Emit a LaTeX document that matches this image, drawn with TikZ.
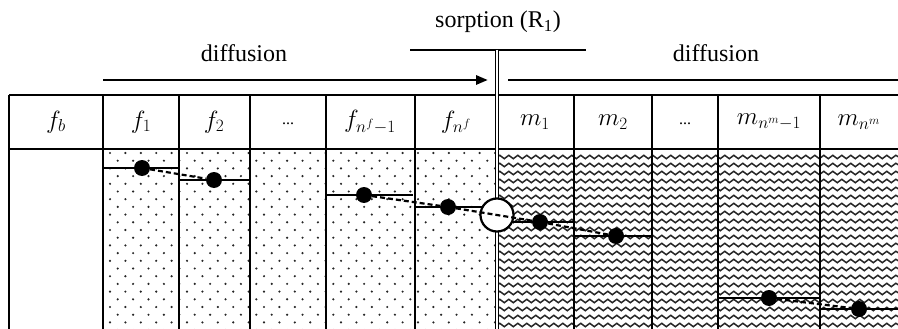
\documentclass[tikz,border=0pt]{standalone}
\usepackage{fontspec}
\setmainfont{Liberation Serif}
\usetikzlibrary{arrows.meta,decorations.pathmorphing}

\begin{document}
\begin{tikzpicture}[
  x=1pt, y=-1pt,
  font=\fontsize{24}{28}\selectfont,
  rule/.style={line width=2.8pt},
  level/.style={line width=2.4pt},
  conc/.style={circle, fill=black, inner sep=0pt, minimum size=16pt},
  iface/.style={circle, draw=black, fill=white, line width=2.2pt, inner sep=0pt, minimum size=33pt},
  link/.style={line width=2.2pt, dash pattern=on 5pt off 3pt},
  wave/.style={draw=black!85, line width=1.5pt, decorate,
               decoration={snake, segment length=9pt, amplitude=1.7pt}},
  grain/.style={fill=black!85},
  head/.style={font=\fontsize{26}{30}\selectfont}
]
  \useasboundingbox (0,0) rectangle (898,329);

  % fracture cells: dotted fill
  \begin{scope}
    \clip (104,150) rectangle (496,329);
    \foreach \r in {0,...,23} {
      \foreach \c in {0,...,26} {
        \fill[grain] ({110+\c*15.4+mod(\r,2)*7.7},{153+\r*7.7}) circle (1.2pt);
      }
    }
  \end{scope}
  % matrix cells: wavy fill
  \begin{scope}
    \clip (498,150) rectangle (898,329);
    \foreach \y in {157,165,...,329}
      \draw[wave] (497,\y) -- (902,\y);
  \end{scope}

  % table
  \draw[rule] (9,95) -- (898,95);
  \draw[rule] (9,149) -- (898,149);
  \foreach \x in {9,103,179,250,326,415,574,652,718,820}
    \draw[rule] (\x,95) -- (\x,329);

  % headers
  \node[head] (hfb)  at (56,122)  {$f_b$};
  \node[head] (hf1)  at (141,122) {$f_1$};
  \node[head] (hf2)  at (214,122) {$f_2$};
  \node (hfd)  at (288,124) {\fontsize{16}{18}\selectfont ...};
  \node[head] (hfn1) at (370,122) {$f_{n^f-1}$};
  \node[head] (hfn)  at (456,122) {$f_{n^f}$};
  \node[head] (hm1)  at (535,122) {$m_1$};
  \node[head] (hm2)  at (613,122) {$m_2$};
  \node (hmd)  at (685,124) {\fontsize{16}{18}\selectfont ...};
  \node[head] (hmn1) at (769,122) {$m_{n^m-1}$};
  \node[head] (hmn)  at (859,122) {$m_{n^m}$};

  % processes above the table
  \node (dfl) at (244,53) {diffusion};
  \node (sor) at (498,22) {sorption (R\textsubscript{1})};
  \node (dfr) at (716,53) {diffusion};
  \coordinate (al) at (103,80);
  \coordinate (ar) at (488,80);
  \coordinate (bl) at (508,80);
  \coordinate (br) at (898,80);
  \coordinate (sl) at (410,50);
  \coordinate (sr) at (586,50);
  \coordinate (st) at (497,50);
  \coordinate (sb) at (497,329);
  \draw[rule, -{Triangle[length=12pt,width=9pt]}] (al) -- (ar);
  \draw[rule] (bl) -- (br);
  \draw[line width=2.4pt] (sl) -- (sr);
  \draw[line width=1.6pt, double, double distance=1.2pt] (st) -- (sb);

  % concentration levels
  \draw[level] (103,168) -- (179,168);
  \draw[level] (179,180) -- (250,180);
  \draw[level] (326,195) -- (413,195);
  \draw[level] (415,207) -- (485,207);
  \draw[level] (497,222) -- (574,222);
  \draw[level] (574,236) -- (652,236);
  \draw[level] (718,298) -- (820,298);
  \draw[level] (820,309) -- (898,309);

  \node[conc] (cf1)  at (142,168) {};
  \node[conc] (cf2)  at (214,180) {};
  \node[conc] (cfn1) at (364,195) {};
  \node[conc] (cfn)  at (448,207) {};
  \node[iface] (r1)  at (497,215) {};
  \node[conc] (cm1)  at (540,222) {};
  \node[conc] (cm2)  at (616,236) {};
  \node[conc] (cmn1) at (769,298) {};
  \node[conc] (cmn)  at (859,309) {};

  \draw[link] (cf1) -- (cf2);
  \draw[link] (cfn1) -- (cfn);
  \draw[link] (cfn.center) -- (r1.center) -- (cm1.center);
  \draw[link] (cm1) -- (cm2);
  \draw[link] (cmn1) -- (cmn);
\end{tikzpicture}
\end{document}
